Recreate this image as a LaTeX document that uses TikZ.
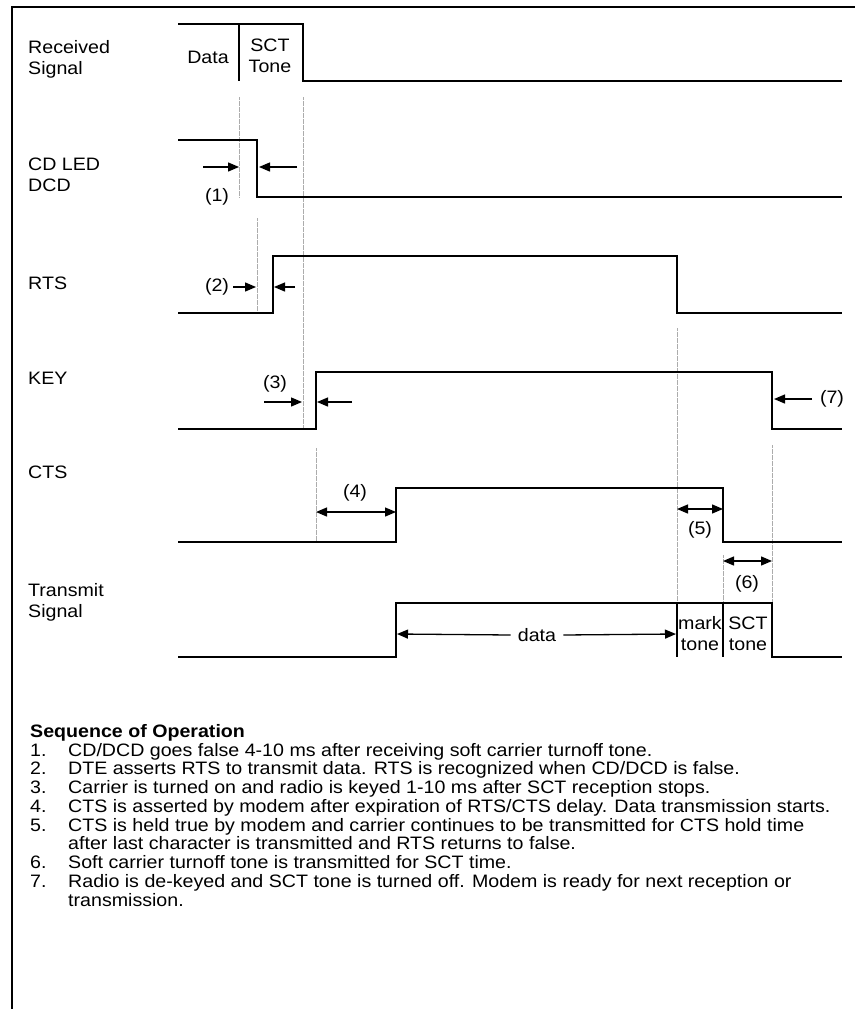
\documentclass[tikz,border=0pt]{standalone}
\usepackage{fontspec}
\setmainfont[FakeStretch=1.09]{Liberation Sans}
\usetikzlibrary{arrows.meta}
\begin{document}
\begin{tikzpicture}[x=1pt,y=-1pt,
  sig/.style={line width=2pt, line join=miter},
  frame/.style={line width=2.2pt},
  guide/.style={gray!65, line width=0.8pt, dash pattern=on 0.6pt off 0.6pt},
  tip/.tip={Triangle[length=11pt,width=9pt]},
  dim/.style={line width=1.3pt, -tip},
  ddim/.style={line width=1.3pt, tip-tip},
  lbl/.style={font=\fontsize{18}{21}\selectfont, anchor=west, inner sep=0pt, align=left},
  txt/.style={font=\fontsize{18}{21}\selectfont, inner sep=0pt, align=center},
  ]
\useasboundingbox (0,0) rectangle (855,1009);
% frame
\draw[frame] (12,1009) -- (12,7) -- (855,7);

% labels
\node[lbl] (lrx) at (28,59) {Received\\Signal};
\node[lbl] (lcd) at (28,175) {CD LED\\DCD};
\node[lbl] (lrts) at (28,283) {RTS};
\node[lbl] (lkey) at (28,378) {KEY};
\node[lbl] (lcts) at (28,472) {CTS};
\node[lbl] (ltx) at (28,602) {Transmit\\Signal};

% guides
\draw[guide] (239,97) -- (239,197);
\draw[guide] (303,97) -- (303,429);
\draw[guide] (257,218) -- (257,313);
\draw[guide] (316,448) -- (316,542);
\draw[guide] (677,328) -- (677,603);
\draw[guide] (723,555) -- (723,603);
\draw[guide] (772,445) -- (772,603);

% received signal
\draw[sig] (178,24) -- (303,24) -- (303,81) -- (842,81);
\draw[sig] (239,24) -- (239,81);
\node[txt] (tdata) at (208,57) {Data};
\node[txt] (tsct) at (270,56) {SCT\\Tone};

% CD LED / DCD
\draw[sig] (178,140) -- (257,140) -- (257,197) -- (842,197);
\draw[dim] (203,167) -- (239,167);
\draw[dim] (297,167) -- (259,167);
\node[txt] (n1) at (217,197) {(1)};

% RTS
\draw[sig] (178,313) -- (273,313) -- (273,256) -- (677,256) -- (677,313) -- (842,313);
\draw[dim] (233,287) -- (256,287);
\draw[dim] (295,287) -- (274,287);
\node[txt] (n2) at (217,287) {(2)};

% KEY
\draw[sig] (178,429) -- (316,429) -- (316,372) -- (772,372) -- (772,429) -- (842,429);
\draw[dim] (264,402) -- (302,402);
\draw[dim] (352,402) -- (317,402);
\node[txt] (n3) at (275,384) {(3)};
\draw[dim] (812,399) -- (774,399);
\node[txt] (n7) at (832,399) {(7)};

% CTS
\draw[sig] (178,542) -- (396,542) -- (396,488) -- (723,488) -- (723,542) -- (842,542);
\draw[ddim] (316,512) -- (396,512);
\node[txt] (n4) at (355,493) {(4)};
\draw[ddim] (677,509) -- (723,509);
\node[txt] (n5) at (700,530) {(5)};
\draw[ddim] (723,561) -- (772,561);
\node[txt] (n6) at (747,584) {(6)};

% Transmit signal
\draw[sig] (178,657) -- (396,657) -- (396,603) -- (772,603) -- (772,657) -- (842,657);
\draw[sig] (677,603) -- (677,657);
\draw[sig] (723,603) -- (723,657);
\node[txt] (tdat) at (537,635) {data};
\draw[dim] (tdat.west) ++(-7,0) -- (397,634);
\draw[dim] (tdat.east) ++(7,0) -- (676,634);
\node[txt] (tmark) at (700,634) {mark\\tone};
\node[txt] (tsct2) at (748,634) {SCT\\tone};

% sequence
\node[anchor=north west, inner sep=0pt, font=\fontsize{18}{18.75}\selectfont] (seq) at (30,724) {%
\begin{tabular}{@{}p{38pt}@{}l@{}}
\multicolumn{2}{@{}l@{}}{\bfseries Sequence of Operation}\\
1. & CD/DCD goes false 4-10 ms after receiving soft carrier turnoff tone.\\
2. & DTE asserts RTS to transmit data. RTS is recognized when CD/DCD is false.\\
3. & Carrier is turned on and radio is keyed 1-10 ms after SCT reception stops.\\
4. & CTS is asserted by modem after expiration of RTS/CTS delay. Data transmission starts.\\
5. & CTS is held true by modem and carrier continues to be transmitted for CTS hold time\\
   & after last character is transmitted and RTS returns to false.\\
6. & Soft carrier turnoff tone is transmitted for SCT time.\\
7. & Radio is de-keyed and SCT tone is turned off. Modem is ready for next reception or\\
   & transmission.
\end{tabular}};
\end{tikzpicture}
\end{document}
